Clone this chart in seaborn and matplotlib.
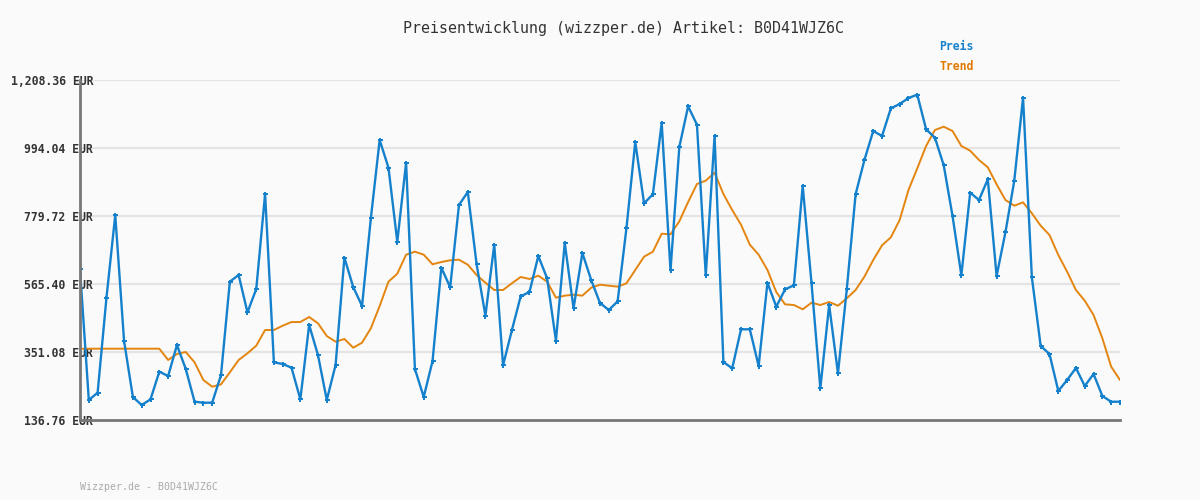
import numpy as np
import pandas as pd
import matplotlib
matplotlib.use("Agg")
import matplotlib.pyplot as plt
import seaborn as sns

title = "Preisentwicklung (wizzper.de) Artikel: B0D41WJZ6C"
footer = "Wizzper.de - B0D41WJZ6C"
series_names = ["Preis", "Trend"]
ytick_values = [136.76, 351.08, 565.40, 779.72, 994.04, 1208.36]
ytick_labels = ["136.76 EUR", "351.08 EUR", "565.40 EUR", "779.72 EUR", "994.04 EUR", "1,208.36 EUR"]

preis = [
    611.7, 199.8, 222.8, 521.3, 782.9, 385.8, 209.2, 184.0, 201.9, 289.0,
    275.4, 373.1, 297.5, 194.4, 191.3, 191.3, 278.6, 572.7, 593.8, 476.1,
    549.7, 849.0, 318.5, 313.3, 301.6, 201.9, 436.2, 341.6, 199.8, 310.1,
    648.3, 556.0, 496.1, 772.4, 1019.3, 932.0, 698.7, 947.8, 297.5, 209.2,
    322.7, 616.8, 555.0, 814.4, 855.4, 627.5, 465.5, 689.3, 309.0, 419.4,
    526.6, 540.2, 653.7, 583.3, 386.8, 694.6, 488.8, 663.1, 578.0, 505.5,
    483.5, 510.8, 740.9, 1012.9, 819.7, 848.1, 1072.8, 608.5, 997.2, 1125.4,
    1067.5, 592.8, 1031.9, 319.6, 299.7, 422.6, 422.6, 306.9, 569.5, 493.9,
    548.6, 561.2, 874.3, 567.6, 236.6, 499.2, 283.9, 548.6, 848.1, 956.2,
    1047.6, 1031.9, 1119.1, 1132.7, 1151.6, 1162.1, 1053.0, 1026.5, 939.5, 779.7,
    592.8, 853.3, 830.2, 895.4, 590.6, 728.3, 890.0, 1152.6, 586.5, 370.0,
    344.8, 228.2, 262.8, 300.7, 243.9, 281.7, 212.4, 194.4, 194.4,
]

trend = [
    361.5, 361.5, 361.5, 361.5, 361.5, 361.5, 361.5, 361.5, 361.5, 361.5,
    325.9, 344.8, 351.1, 318.5, 262.8, 241.7, 249.2, 287.0, 325.9, 347.0,
    371.0, 420.4, 420.4, 434.0, 445.6, 445.6, 461.4, 441.5, 401.5, 383.6,
    392.1, 364.6, 380.4, 425.7, 496.1, 572.7, 597.9, 657.8, 667.2, 657.8,
    627.5, 634.7, 640.1, 642.0, 626.2, 593.8, 569.5, 546.5, 546.5, 567.6,
    587.5, 581.2, 591.6, 572.7, 522.2, 528.6, 531.7, 528.6, 553.8, 563.2,
    560.1, 557.0, 567.6, 609.5, 651.5, 667.2, 724.0, 722.0, 763.0, 823.9,
    880.6, 891.2, 916.3, 849.1, 798.6, 752.3, 689.3, 657.8, 609.5, 540.0,
    501.3, 499.2, 485.6, 506.5, 499.2, 508.7, 497.0, 520.2, 546.5, 588.5,
    641.0, 687.3, 712.5, 767.1, 861.6, 930.0, 1000.4, 1050.8, 1061.2, 1047.6,
    1000.4, 985.6, 956.2, 933.2, 879.6, 830.2, 812.2, 822.7, 788.2, 749.2,
    719.8, 656.8, 604.2, 546.5, 512.8, 467.7, 394.2, 304.8, 262.8,
]

BLUE = "#1581cc"
ORANGE = "#e3850f"
ORANGE_TXT = "#e07800"
BG = "#fafafa"
MONO = ["DejaVu Sans Mono"]

sns.set_theme(style="white")
plt.rcParams["font.family"] = MONO

idx = np.arange(len(preis))
df = pd.DataFrame({"t": idx, "Preis": preis, "Trend": trend})

fig = plt.figure(figsize=(12, 5), dpi=100, facecolor=BG)
ax = fig.add_axes([80 / 1200, 80 / 500, 1040 / 1200, 340 / 500])
ax.set_facecolor(BG)

for v in ytick_values[1:]:
    ax.axhline(v, color="#e4e4e4", lw=1.6, zorder=0)

sns.lineplot(data=df, x="t", y="Trend", ax=ax, color=ORANGE, lw=1.4, zorder=2)
sns.lineplot(data=df, x="t", y="Preis", ax=ax, color=BLUE, lw=1.7,
             marker="P", markersize=3.6, markeredgewidth=0, zorder=3)

ax.set_xlim(0, len(preis) - 1)
ax.set_ylim(ytick_values[0], ytick_values[-1])
ax.set_xlabel("")
ax.set_ylabel("")
ax.set_xticks([])
ax.set_yticks(ytick_values)
ax.set_yticklabels(ytick_labels, fontsize=8.3, fontweight="bold", color="#333333", family=MONO)
ax.tick_params(axis="y", length=0, pad=-9.5)

for s in ["top", "right"]:
    ax.spines[s].set_visible(False)
for s in ["left", "bottom"]:
    ax.spines[s].set_color("#777777")
    ax.spines[s].set_linewidth(2)
    ax.spines[s].set_zorder(5)

fig.text(623.5 / 1200, 1 - 28 / 500, title, ha="center", va="center", fontsize=10.8, color="#333333", family=MONO)
fig.text(939 / 1200, 1 - 47 / 500, series_names[0], ha="left", va="center", fontsize=8.3,
         fontweight="bold", color=BLUE, family=MONO)
fig.text(939 / 1200, 1 - 67 / 500, series_names[1], ha="left", va="center", fontsize=8.3,
         fontweight="bold", color=ORANGE_TXT, family=MONO)
fig.text(80 / 1200, 1 - 487 / 500, footer, ha="left", va="center", fontsize=7.1, color="#aaaaaa", family=MONO)

fig.savefig("out.png", dpi=100, facecolor=BG)
